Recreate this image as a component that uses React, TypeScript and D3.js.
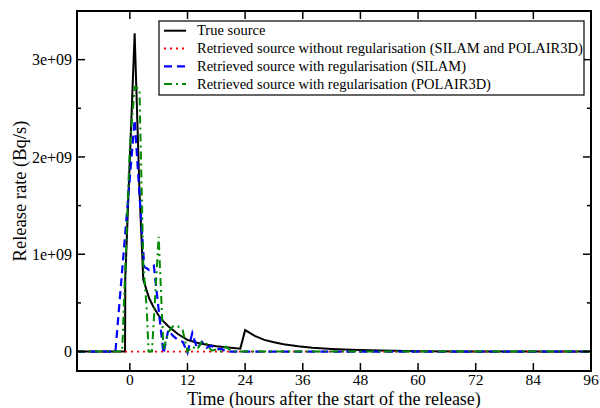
import * as d3 from "d3";

// time (hours) / release rate (Bq/s)
const trueT = [-11, -1, -0.95, 1, 2, 2.8, 4, 5, 6, 7, 8, 10, 12, 14, 16, 18, 20, 23, 24, 26, 28, 30, 32, 35, 38, 42, 46, 50, 55, 60, 70, 96];
const trueV = [0, 0, 0.75e9, 3.27e9, 1.66e9, 0.74e9, 0.55e9, 0.45e9, 0.37e9, 0.31e9, 0.26e9, 0.18e9, 0.12e9, 0.09e9, 0.07e9, 0.055e9, 0.045e9, 0.03e9, 0.22e9, 0.16e9, 0.12e9, 0.095e9, 0.075e9, 0.055e9, 0.04e9, 0.027e9, 0.018e9, 0.012e9, 0.007e9, 0.004e9, 0.001e9, 0];

const noRegT = [-11, 96];
const noRegV = [0, 0];

const silamT = [-11, -3, 1, 3, 4, 5, 7, 8, 9, 10, 11, 12, 13, 14, 15, 16, 17, 18, 19, 20, 96];
const silamV = [0, 0, 2.38e9, 0.87e9, 0.84e9, 0.88e9, -0.02e9, 0.22e9, 0.16e9, 0.12e9, 0.1e9, -0.01e9, 0.19e9, 0.03e9, 0.1e9, 0.04e9, 0.06e9, 0.02e9, 0.03e9, 0, 0];

const polairT = [-11, -1.6, 0, 1, 2, 2.8, 3.5, 3.9, 4.6, 6, 7, 8, 9, 10, 11, 12, 13, 14, 15, 16, 17, 18, 19, 20, 21, 22, 96];
const polairV = [0, 0, 2.1e9, 2.72e9, 2.7e9, 0.9e9, 0.45e9, 0, 0, 1.18e9, 0.02e9, 0.2e9, 0.26e9, 0.26e9, 0.22e9, 0, 0.05e9, 0.02e9, 0.1e9, 0.08e9, 0.01e9, 0.02e9, 0, 0.05e9, 0.01e9, 0, 0];

const xTicks = [0, 12, 24, 36, 48, 60, 72, 84, 96];
const yTicks = [0, 1e9, 2e9, 3e9];
const yMinor = [0.5e9, 1.5e9, 2.5e9];
const yTickLabels = ["0", "1e+09", "2e+09", "3e+09"];

const series = [
  { name: "True source", t: trueT, v: trueV, color: "#000000", dash: "none", width: 2 },
  { name: "Retrieved source without regularisation (SILAM and POLAIR3D)", t: noRegT, v: noRegV, color: "#ff0000", dash: "2,4", width: 1.8 },
  { name: "Retrieved source with regularisation (SILAM)", t: silamT, v: silamV, color: "#0000ff", dash: "8,5", width: 2.2 },
  { name: "Retrieved source with regularisation (POLAIR3D)", t: polairT, v: polairV, color: "#008b00", dash: "8,4,2,4", width: 2 },
];

const font = "'Liberation Serif', 'Times New Roman', serif";

export default function App() {
  const width = 600;
  const height = 408;
  const margin = { top: 11, right: 9, bottom: 37, left: 77 };

  const x = d3.scaleLinear().domain([-11, 96]).range([margin.left, width - margin.right]);
  const y = d3.scaleLinear().domain([-0.2e9, 3.5e9]).range([height - margin.bottom, margin.top]);

  const line = d3.line<[number, number]>()
    .x((d) => x(d[0]))
    .y((d) => y(d[1]));

  const x0 = margin.left;
  const x1 = width - margin.right;
  const y0 = height - margin.bottom;
  const y1 = margin.top;

  return (
    <div style={{ position: "absolute", left: 0, top: 0 }}>
      <svg width={width} height={height} style={{ display: "block", background: "#fff", fontFamily: font }}>
        <defs>
          <clipPath id="plot">
            <rect x={x0} y={y1} width={x1 - x0} height={y0 - y1} />
          </clipPath>
        </defs>

        {/* series */}
        <g clipPath="url(#plot)" fill="none">
          {series.map((s) => (
            <path
              key={s.name}
              d={line(s.t.map((t, i) => [t, s.v[i]] as [number, number])) ?? ""}
              stroke={s.color}
              strokeWidth={s.width}
              strokeDasharray={s.dash}
            />
          ))}
        </g>

        {/* frame */}
        <rect x={x0} y={y1} width={x1 - x0} height={y0 - y1} fill="none" stroke="#000" strokeWidth={2} />

        {/* x ticks */}
        {xTicks.map((t) => (
          <g key={t}>
            <line x1={x(t)} x2={x(t)} y1={y0} y2={y0 - 8} stroke="#000" strokeWidth={1.5} />
            <line x1={x(t)} x2={x(t)} y1={y1} y2={y1 + 8} stroke="#000" strokeWidth={1.5} />
            <text x={x(t)} y={385} textAnchor="middle" fontSize={15.5}>{t}</text>
          </g>
        ))}

        {/* y ticks */}
        {yTicks.map((v, i) => (
          <g key={v}>
            <line x1={x0} x2={x0 + 8} y1={y(v)} y2={y(v)} stroke="#000" strokeWidth={1.5} />
            <line x1={x1} x2={x1 - 8} y1={y(v)} y2={y(v)} stroke="#000" strokeWidth={1.5} />
            <text x={72} y={y(v)} dy="0.35em" textAnchor="end" fontSize={16}>{yTickLabels[i]}</text>
          </g>
        ))}
        {yMinor.map((v) => (
          <g key={v}>
            <line x1={x0} x2={x0 + 4} y1={y(v)} y2={y(v)} stroke="#000" strokeWidth={1.5} />
            <line x1={x1} x2={x1 - 4} y1={y(v)} y2={y(v)} stroke="#000" strokeWidth={1.5} />
          </g>
        ))}

        {/* axis titles */}
        <text x={(x0 + x1) / 2} y={405} textAnchor="middle" fontSize={18}>
          Time (hours after the start of the release)
        </text>
        <text transform={`translate(26,${(y0 + y1) / 2}) rotate(-90)`} textAnchor="middle" fontSize={18.5}>
          Release rate (Bq/s)
        </text>

        {/* legend */}
        <g>
          <rect x={159} y={21} width={425} height={74} fill="#fff" stroke="#000" strokeWidth={1.2} />
          {series.map((s, i) => {
            const ly = 30.7 + i * 17.8;
            return (
              <g key={s.name}>
                <line x1={164} x2={186} y1={ly} y2={ly} stroke={s.color} strokeWidth={s.width} strokeDasharray={s.dash} />
                <text x={197} y={ly} dy="0.33em" fontSize={14.5}>{s.name}</text>
              </g>
            );
          })}
        </g>
      </svg>
    </div>
  );
}
